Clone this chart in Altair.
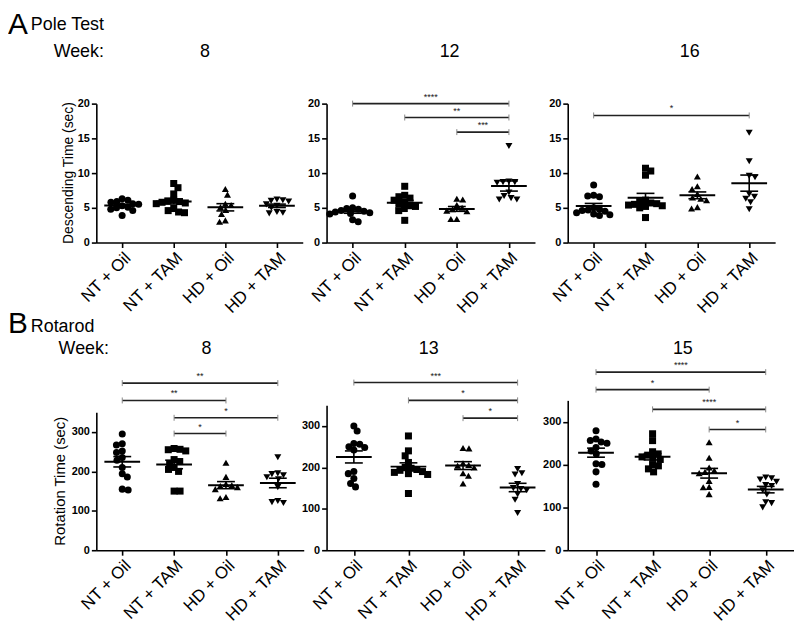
import altair as alt
import numpy as np
import pandas as pd

FONT = "Liberation Sans"
groups = ["NT + Oil", "NT + TAM", "HD + Oil", "HD + TAM"]
shapes = ["circle", "square", "triangle-up", "triangle-down"]

# ---- A. Pole test: descending time (sec) ----
pole_w8_nt_oil = [6.3, 6.1, 5.9, 5.8, 5.6, 5.5, 5.3, 5.1, 5.0, 4.8, 4.6, 3.9]
pole_w8_nt_tam = [8.5, 7.9, 7.0, 6.1, 6.0, 5.9, 5.8, 5.7, 5.6, 4.9, 4.6, 4.4, 4.3]
pole_w8_hd_oil = [7.7, 6.9, 5.6, 5.4, 5.1, 4.7, 4.1, 3.2, 3.0]
pole_w8_hd_tam = [6.2, 6.1, 6.0, 5.9, 5.5, 5.3, 5.0, 4.4, 4.3, 4.2]

pole_w12_nt_oil = [6.7, 5.0, 4.9, 4.8, 4.6, 4.5, 4.4, 4.3, 4.2, 4.1, 3.3, 3.0]
pole_w12_nt_tam = [8.1, 6.8, 6.6, 6.4, 6.1, 5.8, 5.6, 5.3, 5.2, 4.9, 4.6, 3.2]
pole_w12_hd_oil = [6.3, 6.2, 5.4, 5.0, 4.8, 4.6, 4.5, 3.4, 3.4]
pole_w12_hd_tam = [13.9, 8.8, 8.7, 8.7, 8.6, 7.2, 6.7, 6.4, 6.2, 6.2]

pole_w16_nt_oil = [8.3, 6.8, 6.7, 6.6, 5.0, 4.8, 4.7, 4.6, 4.5, 4.3, 4.1, 4.0, 3.9]
pole_w16_nt_tam = [10.7, 10.3, 9.7, 6.1, 5.9, 5.7, 5.6, 5.5, 5.4, 5.3, 5.2, 5.0, 3.6]
pole_w16_hd_oil = [9.5, 8.1, 7.7, 7.0, 6.5, 6.3, 6.1, 5.1, 4.9]
pole_w16_hd_tam = [15.8, 11.7, 9.6, 9.4, 7.0, 6.6, 6.3, 5.8, 4.8]

# ---- B. Rotarod: rotation time (sec) ----
rot_w8_nt_oil = [295, 270, 267, 252, 248, 235, 228, 210, 194, 186, 155, 153]
rot_w8_nt_tam = [258, 256, 255, 252, 230, 225, 220, 210, 205, 200, 150, 150]
rot_w8_hd_oil = [222, 186, 168, 165, 163, 160, 155, 135, 132]
rot_w8_hd_tam = [236, 195, 193, 190, 185, 180, 160, 125, 122, 120]

rot_w13_nt_oil = [300, 288, 258, 256, 250, 248, 242, 190, 185, 173, 161, 153]
rot_w13_nt_tam = [276, 240, 228, 212, 200, 198, 195, 193, 190, 188, 185, 183, 137]
rot_w13_hd_oil = [247, 246, 210, 206, 204, 200, 186, 180, 161]
rot_w13_hd_tam = [196, 186, 183, 160, 150, 148, 145, 135, 122, 90]

rot_w15_nt_oil = [279, 260, 256, 253, 250, 240, 232, 225, 202, 200, 183, 154]
rot_w15_nt_tam = [272, 256, 230, 225, 222, 218, 215, 212, 200, 197, 190, 183]
rot_w15_hd_oil = [252, 216, 193, 186, 183, 180, 162, 148, 147, 131]
rot_w15_hd_tam = [170, 168, 165, 160, 152, 150, 140, 130, 112, 110, 100]

# significance brackets: (from group, to group, bracket level, label)
pole_w8_sig = []
pole_w12_sig = [("NT + Oil", "HD + TAM", 20.0, "****"),
                ("NT + TAM", "HD + TAM", 18.0, "**"),
                ("HD + Oil", "HD + TAM", 15.9, "***")]
pole_w16_sig = [("NT + Oil", "HD + TAM", 18.3, "*")]
rot_w8_sig = [("NT + Oil", "HD + TAM", 424, "**"),
              ("NT + Oil", "HD + Oil", 380, "**"),
              ("NT + TAM", "HD + TAM", 336, "*"),
              ("NT + TAM", "HD + Oil", 296, "*")]
rot_w13_sig = [("NT + Oil", "HD + TAM", 405, "***"),
               ("NT + TAM", "HD + TAM", 362, "*"),
               ("HD + Oil", "HD + TAM", 319, "*")]
rot_w15_sig = [("NT + Oil", "HD + TAM", 416, "****"),
               ("NT + Oil", "HD + Oil", 375, "*"),
               ("NT + TAM", "HD + TAM", 329, "****"),
               ("HD + Oil", "HD + TAM", 282, "*")]


def swarm(vals, ppu, d=6.0):
    """Simple beeswarm layout: horizontal pixel offsets so markers do not pile up."""
    order = sorted(range(len(vals)), key=lambda i: -vals[i])
    placed, offs, flip = [], [0.0] * len(vals), 1
    for i in order:
        y = vals[i] * ppu
        forb = []
        for px, py in placed:
            dy = abs(py - y)
            if dy < d:
                w = (d * d - dy * dy) ** 0.5
                forb.append((px - w, px + w))
        cands = [0.0] + [a for iv in forb for a in iv]
        cands.sort(key=lambda c: (round(abs(c), 3), c * flip))
        x = 0.0
        for c in cands:
            if all(not (lo + 1e-6 < c < hi - 1e-6) for lo, hi in forb):
                x = c
                break
        flip = -flip
        placed.append((x, y))
        offs[i] = x
    return offs


def txt(s, x, y, size, align="left", angle=0):
    return alt.Chart(pd.DataFrame({"a": [0]})).mark_text(
        text=s, font=FONT, fontSize=size, align=align, baseline="alphabetic", color="black",
        angle=angle
    ).encode(x=alt.value(x), y=alt.value(y))


def panel(series, ymax, yvals, width, height, ytop, sig, texts, ytitle=None,
          ytitle_size=14, ytitle_x=-30):
    step = width / 4.0
    ppu = (height - ytop) / ymax
    xsc = alt.Scale(domain=[-0.5, 3.5], nice=False, zero=False)
    ysc = alt.Scale(domain=[0, ymax], range=[height, ytop], nice=False, zero=True)

    rows, st = [], []
    for gi, vals in enumerate(series):
        offs = swarm(vals, ppu)
        for v, o in zip(vals, offs):
            rows.append({"grp": groups[gi], "xpos": gi + o / step, "val": v})
        a = np.array(vals, float)
        m = a.mean()
        s = a.std(ddof=1) / np.sqrt(len(a))
        st.append({"gi": gi, "m": m, "lo": m - s, "hi": m + s,
                   "ml": gi - 18 / step, "mr": gi + 18 / step,
                   "cl": gi - 9 / step, "cr": gi + 9 / step})
    pts = pd.DataFrame(rows)
    stats = pd.DataFrame(st)

    xaxis = alt.Axis(values=[0, 1, 2, 3],
                     labelExpr="['NT + Oil','NT + TAM','HD + Oil','HD + TAM'][datum.value]",
                     title=None, grid=False, labelAngle=-45, labelFontSize=17,
                     labelOverlap=False, labelBound=False,
                     labelFont=FONT, labelColor="black", labelPadding=2,
                     domainColor="black", domainWidth=1.6, tickColor="black",
                     tickWidth=1.6, tickSize=5)
    yaxis = alt.Axis(values=yvals, grid=False, labelFontSize=11, labelFontWeight="bold",
                     labelFont=FONT, labelColor="black", labelPadding=2,
                     labelOverlap=False, title=None,
                     domainColor="black", domainWidth=1.6, tickColor="black",
                     tickWidth=1.6, tickSize=5)

    def X(f):
        return alt.X(f, type="quantitative", scale=xsc, axis=xaxis)

    def Y(f):
        return alt.Y(f, type="quantitative", scale=ysc, axis=yaxis)

    layers = []
    layers.append(alt.Chart(pts).mark_point(filled=True, opacity=1, color="black", size=50).encode(
        x=X("xpos"),
        y=Y("val"),
        shape=alt.Shape("grp:N", scale=alt.Scale(domain=groups, range=shapes), legend=None),
    ))
    layers.append(alt.Chart(stats).mark_rule(color="black", strokeWidth=2).encode(
        x=X("ml"), x2="mr", y=Y("m")))
    layers.append(alt.Chart(stats).mark_rule(color="black", strokeWidth=1.6).encode(
        x=X("gi"), y=Y("lo"), y2="hi"))
    layers.append(alt.Chart(stats).mark_rule(color="black", strokeWidth=1.6).encode(
        x=X("cl"), x2="cr", y=Y("lo")))
    layers.append(alt.Chart(stats).mark_rule(color="black", strokeWidth=1.6).encode(
        x=X("cl"), x2="cr", y=Y("hi")))

    if sig:
        sd = pd.DataFrame([{"x1": groups.index(a), "x2": groups.index(b),
                            "xm": (groups.index(a) + groups.index(b)) / 2,
                            "lev": lev, "tlo": lev - 3 / ppu, "thi": lev + 3 / ppu,
                            "lab": lab} for a, b, lev, lab in sig])
        layers.append(alt.Chart(sd).mark_rule(color="#222", strokeWidth=1.6).encode(
            x=X("x1"), x2="x2", y=Y("lev")))
        layers.append(alt.Chart(sd).mark_rule(color="#888", strokeWidth=1).encode(
            x=X("x1"), y=Y("tlo"), y2="thi"))
        layers.append(alt.Chart(sd).mark_rule(color="#888", strokeWidth=1).encode(
            x=X("x2"), y=Y("tlo"), y2="thi"))
        layers.append(alt.Chart(sd).mark_text(font=FONT, fontSize=9, dy=-4, baseline="alphabetic",
                                              color="#222").encode(
            x=X("xm"), y=Y("lev"), text="lab:N"))

    if ytitle:
        # axis title drawn as rotated text centred on the axis span
        layers.append(alt.Chart(pd.DataFrame({"a": [0]})).mark_text(
            text=ytitle, font=FONT, fontSize=ytitle_size, align="center",
            baseline="middle", angle=270, color="black"
        ).encode(x=alt.value(ytitle_x), y=alt.value((height + ytop) / 2)))

    for t in texts:
        layers.append(txt(*t))

    return alt.layer(*layers).properties(width=width, height=height)


A1 = panel([pole_w8_nt_oil, pole_w8_nt_tam, pole_w8_hd_oil, pole_w8_hd_tam], 20,
           [0, 5, 10, 15, 20], 208, 140, 0, pole_w8_sig,
           [("A", -89, -70, 30), ("Pole Test", -66, -74, 18), ("Week:", -43, -47, 18),
            ("8", 109.5, -47, 18, "center")],
           ytitle="Descending Time (sec)", ytitle_size=14, ytitle_x=-28)
A2 = panel([pole_w12_nt_oil, pole_w12_nt_tam, pole_w12_hd_oil, pole_w12_hd_tam], 20,
           [0, 5, 10, 15, 20], 210, 140, 0, pole_w12_sig,
           [("12", 124, -47, 18, "center")])
A3 = panel([pole_w16_nt_oil, pole_w16_nt_tam, pole_w16_hd_oil, pole_w16_hd_tam], 20,
           [0, 5, 10, 15, 20], 209, 140, 0, pole_w16_sig,
           [("16", 123, -47, 18, "center")])
B1 = panel([rot_w8_nt_oil, rot_w8_nt_tam, rot_w8_hd_oil, rot_w8_hd_tam], 350,
           [0, 100, 200, 300], 209, 151, 12, rot_w8_sig,
           [("B", -89, -68, 30), ("Rotarod", -66, -69, 18), ("Week:", -38, -47, 18),
            ("8", 111, -47, 18, "center")],
           ytitle="Rotation Time (sec)", ytitle_size=15, ytitle_x=-37)
B2 = panel([rot_w13_nt_oil, rot_w13_nt_tam, rot_w13_hd_oil, rot_w13_hd_tam], 350,
           [0, 100, 200, 300], 220, 151, 5, rot_w13_sig,
           [("13", 103, -47, 18, "center")])
B3 = panel([rot_w15_nt_oil, rot_w15_nt_tam, rot_w15_hd_oil, rot_w15_hd_tam], 350,
           [0, 100, 200, 300], 228, 151, 0, rot_w15_sig,
           [("15", 116, -47, 18, "center")])

chart = alt.concat(A1, A2, A3, B1, B2, B3, columns=3,
                   spacing={"row": 159, "column": 23},
                   bounds="flush", align="each").configure_view(stroke=None).properties(
    padding={"left": 0, "top": 0, "right": 0, "bottom": 0})

chart.save("out.html", embed_options={"renderer": "svg", "actions": False})
